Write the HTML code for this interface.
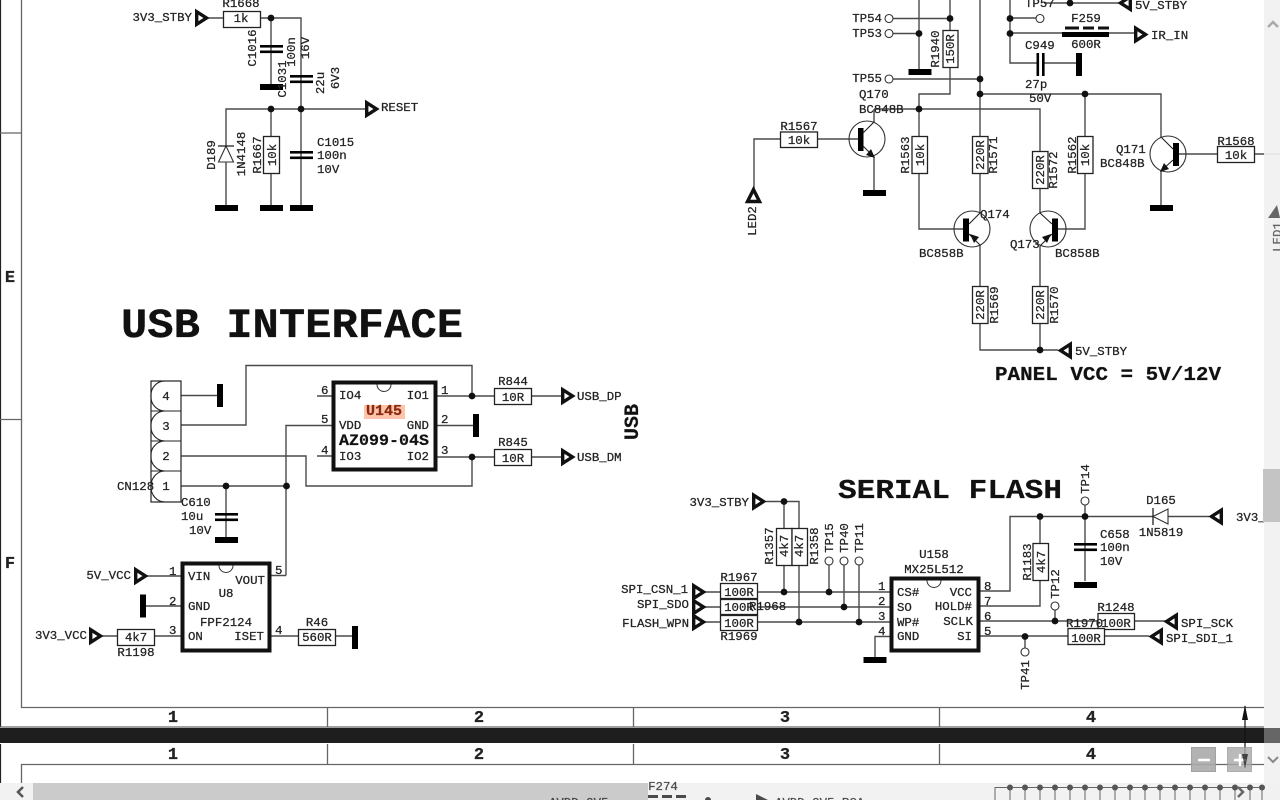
<!DOCTYPE html>
<html><head><meta charset="utf-8"><style>
html,body{margin:0;padding:0;background:#fff;overflow:hidden}
svg{display:block}
text{font-family:"Liberation Mono","DejaVu Sans Mono",monospace;font-size:12.4px;fill:#222;stroke:#222;stroke-width:.25}
.m{text-anchor:middle}.e{text-anchor:end}
.w{fill:none;stroke:#4a4a4a;stroke-width:1.4}
.k{fill:none;stroke:#222;stroke-width:1.1}
.r{fill:#fff;stroke:#222;stroke-width:1.3}
.c{fill:#fff;stroke:#333;stroke-width:1.1}
.b{font-weight:bold}
.ic{fill:#fff;stroke:#111;stroke-width:4}
.n{fill:#fff;stroke:#333;stroke-width:1}
</style></head><body>
<svg width="1280" height="800" viewBox="0 0 1280 800" xmlns="http://www.w3.org/2000/svg">
<defs>
<g id="fr"><polygon points="1.7,-6.3 1.7,6.300 11.500,0" fill="#fff" stroke="#111" stroke-width="3.4"/></g>
<g id="fl"><polygon points="-1.7,-6.3 -1.7,6.300 -11.500,0" fill="#fff" stroke="#111" stroke-width="3.4"/></g>
<circle id="d" r="3.4" fill="#111"/>
<rect id="gh" x="-11.5" y="-3" width="23" height="6" fill="#000"/>
<rect id="gv" x="-3" y="-11.5" width="6" height="23" fill="#000"/>
</defs>

<!-- frame -->
<path d="M.5 0V727M.5 744V783" stroke="#222" stroke-width="1.2" fill="none"/>
<path d="M21.5 0V707.5H1264M0 133H21M0 419.5H21M327.5 707V727M633.5 707V727M939.5 707V727M0 727H1264" stroke="#666" stroke-width="1.3" fill="none"/>
<path d="M21.5 783V764.5H1264M327.5 744V764M633.5 744V764M939.5 744V764" stroke="#666" stroke-width="1.3" fill="none"/>
<rect x="0" y="728" width="1264" height="15" fill="#1e1e1e"/>
<g>
<text class="m b" x="173" y="722" style="font-size:17px">1</text><text class="m b" x="479" y="722" style="font-size:17px">2</text><text class="m b" x="785" y="722" style="font-size:17px">3</text><text class="m b" x="1091" y="722" style="font-size:17px">4</text>
<text class="m b" x="173" y="759" style="font-size:17px">1</text><text class="m b" x="479" y="759" style="font-size:17px">2</text><text class="m b" x="785" y="759" style="font-size:17px">3</text><text class="m b" x="1091" y="759" style="font-size:17px">4</text>
<text class="m b" x="10" y="282" style="font-size:17px">E</text><text class="m b" x="10" y="568" style="font-size:17px">F</text>
</g>
<path d="M1245 706V768" stroke="#111" stroke-width="1.2"/>
<polygon points="1245,705 1242,720 1248,720" fill="#111"/><polygon points="1245,768 1242,754 1248,754" fill="#111"/>

<!-- top-left reset circuit -->
<path class="w" d="M208 18H223M260 18H301V109M271 18V86M226 208V109H365M271 109V208M301 109V208"/>
<use href="#fr" x="195" y="18"/>
<rect class="r" x="223.500" y="11.500" width="37" height="16"/>
<use href="#d" x="271" y="18"/><use href="#d" x="271" y="109"/><use href="#d" x="301" y="109"/>
<rect x="260" y="45" width="23" height="2.600" fill="#000"/><rect x="260" y="50.500" width="23" height="2.600" fill="#000"/>
<rect x="290" y="75" width="23" height="2.600" fill="#000"/><rect x="290" y="80.500" width="23" height="2.600" fill="#000"/>
<rect x="290" y="151" width="23" height="2.600" fill="#000"/><rect x="290" y="156.500" width="23" height="2.600" fill="#000"/>
<use href="#gh" x="271.500" y="87"/><use href="#gh" x="226.500" y="208"/><use href="#gh" x="271.500" y="208"/><use href="#gh" x="301.500" y="208"/>
<use href="#fr" x="365" y="109"/>
<polygon points="226,146 218.500,162 233.500,162" fill="#fff" stroke="#333" stroke-width="1.1"/><path d="M218 146H234" stroke="#222" stroke-width="1.300"/>
<rect class="r" x="263.500" y="136.500" width="16" height="37"/>
<text class="e" x="192" y="21">3V3_STBY</text><text class="m" x="241" y="7">R1668</text><text class="m" x="241" y="22">1k</text>
<text x="381" y="111">RESET</text>
<text class="m" transform="translate(256,48) rotate(-90)">C1016</text>
<text class="m" transform="translate(295,52) rotate(-90)">100n</text>
<text class="m" transform="translate(286,79) rotate(-90)">C1031</text>
<text class="m" transform="translate(309,48) rotate(-90)">16V</text>
<text class="m" transform="translate(324,83) rotate(-90)">22u</text>
<text class="m" transform="translate(339,78) rotate(-90)">6V3</text>
<text class="m" transform="translate(215,155) rotate(-90)">D189</text>
<text class="m" transform="translate(245,154) rotate(-90)">1N4148</text>
<text class="m" transform="translate(261,155) rotate(-90)">R1667</text>
<text class="m" transform="translate(276,155) rotate(-90)">10k</text>
<text x="317" y="146">C1015</text><text x="317" y="159">100n</text><text x="317" y="173">10V</text>

<!-- USB interface -->
<text x="121" y="337" textLength="342" lengthAdjust="spacingAndGlyphs" style="font-size:42px;font-weight:bold;fill:#111;stroke:#111;stroke-width:.3">USB INTERFACE</text>
<path class="w" d="M181 395.500H219M181 425H246V365.500H472V396M181 456H306V486H472V457M181 486H286M226 486V540M286 575.500V425.500H332M271 575.500H286M317 396H332M317 456H332M437 396H495M437 425.500H473M437 457H495M531 396H561M531 457H561"/>
<rect x="151" y="381" width="30" height="121" fill="none" stroke="#222" stroke-width="1.200"/>
<path class="k" d="M151 411H181M151 441H181M151 471H181M181 502H166"/>
<path class="k" d="M165 381A14 14 0 0 0 151 396A14 14 0 0 0 165 411M165 411A14 14 0 0 0 151 426A14 14 0 0 0 165 441M165 441A14 14 0 0 0 151 456A14 14 0 0 0 165 471M165 471A14 15 0 0 0 151 486A14 15 0 0 0 165 502"/>
<text class="m" x="166" y="400">4</text><text class="m" x="166" y="430">3</text><text class="m" x="166" y="460">2</text><text class="m" x="166" y="490">1</text>
<text x="117" y="490">CN128</text>
<use href="#gv" x="220" y="395.500"/>
<use href="#d" x="226" y="486"/><use href="#d" x="286.500" y="486"/>
<rect x="215" y="513" width="23" height="2.600" fill="#000"/><rect x="215" y="518.500" width="23" height="2.600" fill="#000"/>
<use href="#gh" x="226.500" y="540"/>
<text x="181" y="506">C610</text><text x="181" y="520">10u</text><text x="189" y="534">10V</text>

<rect class="ic" x="333.500" y="382.500" width="102" height="87"/>
<path class="n" d="M377 384.500A7 7 0 0 0 391 384.500" fill="none"/>
<rect x="364" y="405" width="41" height="14" fill="#ffc4ac"/>
<text class="m b" x="384" y="415" style="font-size:15px;fill:#8a2a10;stroke:#8a2a10;font-weight:bold">U145</text>
<text x="339" y="399">IO4</text><text class="e" x="429" y="399">IO1</text><text x="339" y="429">VDD</text><text class="e" x="429" y="429">GND</text><text x="339" y="460">IO3</text><text class="e" x="429" y="460">IO2</text>
<text x="339" y="445" textLength="90" lengthAdjust="spacingAndGlyphs" style="font-size:15.500px;font-weight:bold;fill:#111">AZ099-04S</text>
<text x="321" y="394">6</text><text x="321" y="423">5</text><text x="321" y="454">4</text>
<text x="441" y="394">1</text><text x="441" y="423">2</text><text x="441" y="454">3</text>
<use href="#d" x="472" y="396"/><use href="#d" x="472" y="457"/>
<use href="#gv" x="476" y="425.500"/>
<rect class="r" x="494.500" y="388.500" width="37" height="16"/><rect class="r" x="494.500" y="449.500" width="37" height="16"/>
<text class="m" x="513" y="385">R844</text><text class="m" x="513" y="401">10R</text><text class="m" x="513" y="446">R845</text><text class="m" x="513" y="462">10R</text>
<use href="#fr" x="561" y="396"/><use href="#fr" x="561" y="457"/>
<text x="577" y="400">USB_DP</text><text x="577" y="461">USB_DM</text>
<text class="m" transform="translate(638,422) rotate(-90)" style="font-size:20px;font-weight:bold;fill:#111">USB</text>

<!-- U8 -->
<path class="w" d="M147 576H181M143 606H181M102 636H117M155 636H181M271 636H298M335 636H352"/>
<use href="#fr" x="134" y="576"/><use href="#fr" x="89" y="636"/>
<use href="#gv" x="143" y="606"/><use href="#gv" x="355" y="637.500"/>
<rect class="ic" x="182.500" y="563.500" width="87" height="87"/>
<path class="n" d="M219 565.500A7 7 0 0 0 233 565.500" fill="none"/>
<rect class="r" x="117.500" y="629.500" width="37" height="16"/><rect class="r" x="298.500" y="629.500" width="37" height="16"/>
<text class="e" x="131" y="579">5V_VCC</text><text class="e" x="87" y="639">3V3_VCC</text>
<text class="m" x="136" y="641">4k7</text><text class="m" x="136" y="656">R1198</text>
<text class="m" x="317" y="641">560R</text><text class="m" x="317" y="626">R46</text>
<text x="188" y="580">VIN</text><text x="188" y="610">GND</text><text x="188" y="640">ON</text>
<text class="e" x="265" y="584">VOUT</text><text class="m" x="226" y="597">U8</text><text class="m" x="226" y="626">FPF2124</text><text class="e" x="264" y="640">ISET</text>
<text x="169" y="575">1</text><text x="169" y="605">2</text><text x="169" y="634">3</text><text x="275" y="574">5</text><text x="275" y="634">4</text>

<!-- top-right -->
<path class="w" d="M893 18.500H950M893 33.500H919M919 0V70M950 0V30M950 68V94H919V229H963M893 79H980M980 0V141M980 94H1161V137M874 109H1040V151M1085 94V229H1058M980 136V213M874 122V109M874 157V190M754 188V139H780M818 139H858M1010 0V63H1037M1043 63H1077M1010 18H1036M1010 33H1134M1044 3H1119M1040 189V213M980 245V350H1058M1040 246V350M1179 154H1217M1254 154H1280M1161 171V205"/>
<circle class="c" cx="889" cy="18.500" r="4"/><circle class="c" cx="889" cy="33.500" r="4"/><circle class="c" cx="889" cy="79" r="4"/><circle class="c" cx="1040" cy="18.500" r="4"/>
<use href="#d" x="950" y="18.500"/><use href="#d" x="919" y="33.500"/><use href="#d" x="980" y="79"/><use href="#d" x="980" y="94"/><use href="#d" x="1085" y="94"/><use href="#d" x="919" y="109"/><use href="#d" x="1010" y="18.500"/><use href="#d" x="1010" y="33.500"/><use href="#d" x="1070" y="3"/>
<use href="#gh" x="920" y="72"/>
<text class="e" x="882" y="22">TP54</text><text class="e" x="882" y="37">TP53</text><text class="e" x="882" y="82">TP55</text><text x="1025" y="7">TP57</text>
<rect class="r" x="943" y="30.500" width="15" height="37"/>
<text class="m" transform="translate(939,49) rotate(-90)">R1940</text>
<text class="m" transform="translate(954,49) rotate(-90)">150R</text>
<use href="#fl" x="1132" y="3"/><text x="1135" y="9">5V_STBY</text>
<text class="m" x="1086" y="22">F259</text><text class="m" x="1086" y="48">600R</text>
<rect x="1062" y="32" width="47" height="5" fill="#000"/>
<path d="M1065 28H1079M1083 28H1094M1098 28H1109" stroke="#111" stroke-width="3" fill="none"/>
<use href="#fr" x="1134" y="34.500"/><text x="1151" y="39">IR_IN</text>
<text x="1025" y="49">C949</text><text x="1025" y="88">27p</text><text x="1029" y="102">50V</text>
<rect x="1036.500" y="53" width="2.600" height="23" fill="#000"/><rect x="1042" y="53" width="2.600" height="23" fill="#000"/>
<use href="#gv" x="1079" y="64.500"/>

<!-- Q170 -->
<circle cx="867" cy="139" r="18" fill="none" stroke="#333" stroke-width="1.1"/>
<rect x="858" y="128" width="5.500" height="23" fill="#000"/>
<path class="k" d="M863 133L874 122M863 146L874 157"/><polygon points="875,158 866,155 871,149" fill="#111"/>
<use href="#gh" x="874.500" y="193"/>
<rect class="r" x="780.500" y="132" width="37" height="15.500"/>
<text class="m" x="799" y="130">R1567</text><text class="m" x="799" y="144">10k</text>
<text x="859" y="98">Q170</text><text x="859" y="113">BC848B</text>
<polygon points="753.500,189.500 747.500,201.500 759.500,201.500" fill="#fff" stroke="#111" stroke-width="3.4"/>
<text class="m" transform="translate(756,221) rotate(-90)">LED2</text>
<!-- R1563 etc -->
<rect class="r" x="912" y="136.500" width="15.500" height="37"/><rect class="r" x="972.500" y="136.500" width="15.500" height="37"/><rect class="r" x="1032.500" y="151.500" width="15.500" height="37"/><rect class="r" x="1077.500" y="136.500" width="15.500" height="37"/>
<rect class="r" x="972.500" y="286.500" width="15.500" height="37"/><rect class="r" x="1032.500" y="286.500" width="15.500" height="37"/>
<text class="m" transform="translate(909,155) rotate(-90)">R1563</text><text class="m" transform="translate(924,155) rotate(-90)">10k</text>
<text class="m" transform="translate(984,155) rotate(-90)">220R</text><text class="m" transform="translate(997,155) rotate(-90)">R1571</text>
<text class="m" transform="translate(1044,170) rotate(-90)">220R</text><text class="m" transform="translate(1057,170) rotate(-90)">R1572</text>
<text class="m" transform="translate(1076,155) rotate(-90)">R1562</text><text class="m" transform="translate(1089,155) rotate(-90)">10k</text>
<text class="m" transform="translate(984,305) rotate(-90)">220R</text><text class="m" transform="translate(998,305) rotate(-90)">R1569</text>
<text class="m" transform="translate(1044,305) rotate(-90)">220R</text><text class="m" transform="translate(1058,305) rotate(-90)">R1570</text>
<!-- Q174 -->
<circle cx="972" cy="229" r="18" fill="none" stroke="#333" stroke-width="1.1"/>
<rect x="963" y="218.500" width="6" height="23" fill="#000"/>
<path class="k" d="M969 224L980 213M969 234L980 245"/><polygon points="970,234 979,237 974,243" fill="#111"/>
<text x="980" y="218">Q174</text><text x="919" y="257">BC858B</text>
<!-- Q173 -->
<circle cx="1048" cy="229" r="18" fill="none" stroke="#333" stroke-width="1.1"/>
<rect x="1052" y="218.500" width="6" height="23" fill="#000"/>
<path class="k" d="M1052 224L1040 213M1052 234L1040 246"/><polygon points="1051,234 1042,237 1047,243" fill="#111"/>
<text x="1010" y="248">Q173</text><text x="1055" y="257">BC858B</text>
<use href="#d" x="1040" y="350"/>
<use href="#fl" x="1072" y="350.500"/>
<text x="1075" y="355">5V_STBY</text>
<text x="995" y="380" textLength="226" lengthAdjust="spacingAndGlyphs" style="font-size:19px;font-weight:bold;fill:#111">PANEL VCC = 5V/12V</text>
<!-- Q171 -->
<circle cx="1168" cy="154" r="18" fill="none" stroke="#333" stroke-width="1.1"/>
<rect x="1173" y="143" width="6" height="23" fill="#000"/>
<path class="k" d="M1173 149L1161 137M1173 160L1161 171"/><polygon points="1160,172 1169,169 1164,163" fill="#111"/>
<use href="#gh" x="1161.500" y="208"/>
<rect class="r" x="1217.500" y="146.500" width="37" height="16"/>
<text class="m" x="1236" y="145">R1568</text><text class="m" x="1236" y="159">10k</text>
<text x="1116" y="153">Q171</text><text x="1100" y="167">BC848B</text>

<!-- Serial flash -->
<text x="838" y="498" textLength="224" lengthAdjust="spacingAndGlyphs" style="font-size:27px;font-weight:bold;fill:#111;stroke:#111;stroke-width:.2">SERIAL FLASH</text>
<path class="w" d="M766 501.500H799V622M784 501.500V592M705 592H890M705 607H890M705 622H890M829 565V592M844 565V607M859 565V622M875 660V636.500H890"/>
<use href="#fr" x="752" y="501.500"/>
<use href="#d" x="784" y="501.500"/><use href="#d" x="784" y="592"/><use href="#d" x="799" y="622"/><use href="#d" x="829" y="592"/><use href="#d" x="844" y="607"/><use href="#d" x="859" y="622"/>
<text class="e" x="749" y="506">3V3_STBY</text>
<rect class="r" x="776.500" y="528.500" width="15.500" height="37"/><rect class="r" x="792" y="528.500" width="15.500" height="37"/>
<text class="m" transform="translate(773,546) rotate(-90)">R1357</text><text class="m" transform="translate(788,546) rotate(-90)">4k7</text><text class="m" transform="translate(803,546) rotate(-90)">4k7</text><text class="m" transform="translate(818,546) rotate(-90)">R1358</text>
<circle class="c" cx="829" cy="561" r="4"/><circle class="c" cx="844" cy="561" r="4"/><circle class="c" cx="859" cy="561" r="4"/>
<text class="m" transform="translate(833,538) rotate(-90)">TP15</text><text class="m" transform="translate(848,538) rotate(-90)">TP40</text><text class="m" transform="translate(863,538) rotate(-90)">TP11</text>
<use href="#fr" x="692" y="592"/><use href="#fr" x="692" y="607"/><use href="#fr" x="692" y="622"/>
<rect class="r" x="720.500" y="583.500" width="37" height="15"/><rect class="r" x="720.500" y="599.500" width="37" height="15"/><rect class="r" x="720.500" y="615.500" width="37" height="15"/>
<text class="m" x="739" y="596">100R</text><text class="m" x="739" y="611">100R</text><text class="m" x="739" y="627">100R</text>
<text class="m" x="739" y="581">R1967</text><text x="749" y="610">R1968</text><text class="m" x="739" y="640">R1969</text>
<text class="e" x="688" y="593">SPI_CSN_1</text><text class="e" x="689" y="608">SPI_SDO</text><text class="e" x="689" y="627">FLASH_WPN</text>
<use href="#gh" x="875" y="660"/>
<text x="878" y="590">1</text><text x="878" y="605">2</text><text x="878" y="620">3</text><text x="878" y="635">4</text>
<path class="w" d="M980 591H1010V516.500H1153M1168 516.500H1209M980 606H1040V516.500M1085 505V581M980 621H1098M1134 621H1165M980 636H1068M1104 636H1149M1055 610V621M1025 636V648"/>
<rect class="ic" x="891.500" y="578.500" width="87" height="72"/>
<path class="n" d="M927 580.500A7 7 0 0 0 941 580.500" fill="none"/>
<text x="897" y="596">CS#</text><text x="897" y="611">SO</text><text x="897" y="626">WP#</text><text x="897" y="640">GND</text>
<text class="e" x="972" y="596">VCC</text><text class="e" x="972" y="610">HOLD#</text><text class="e" x="973" y="625">SCLK</text><text class="e" x="972" y="640">SI</text>
<text class="m" x="934" y="558">U158</text><text class="m" x="934" y="573">MX25L512</text>
<text x="984" y="590">8</text><text x="984" y="605">7</text><text x="984" y="620">6</text><text x="984" y="635">5</text>
<use href="#d" x="1040" y="516.500"/><use href="#d" x="1085" y="516.500"/><use href="#d" x="1055" y="621"/><use href="#d" x="1025" y="636.500"/>
<circle class="c" cx="1085" cy="501" r="4"/><circle class="c" cx="1055" cy="606" r="4"/><circle class="c" cx="1025" cy="652" r="4"/>
<polygon points="1153,516.500 1168,509 1168,524" fill="#fff" stroke="#333" stroke-width="1.100"/><path d="M1153 508V525" stroke="#222" stroke-width="1.300"/>
<use href="#fl" x="1223" y="516.500"/>
<text class="m" x="1161" y="504">D165</text><text class="m" x="1161" y="536">1N5819</text>
<rect class="r" x="1033" y="543.500" width="15.500" height="37"/>
<text class="m" transform="translate(1031,562) rotate(-90)">R1183</text><text class="m" transform="translate(1045,562) rotate(-90)">4k7</text>
<text class="m" transform="translate(1089,479) rotate(-90)">TP14</text><text class="m" transform="translate(1059,584) rotate(-90)">TP12</text><text class="m" transform="translate(1029,675) rotate(-90)">TP41</text>
<rect x="1074" y="543" width="23" height="2.600" fill="#000"/><rect x="1074" y="548.500" width="23" height="2.600" fill="#000"/>
<use href="#gh" x="1085.500" y="585"/>
<text x="1100" y="538">C658</text><text x="1100" y="551">100n</text><text x="1100" y="565">10V</text>
<rect class="r" x="1098" y="613.500" width="36.500" height="16"/><rect class="r" x="1068" y="628.500" width="36.500" height="16"/>
<text class="m" x="1116" y="627">100R</text><text class="m" x="1086" y="642">100R</text>
<text class="m" x="1116" y="611">R1248</text><text x="1066" y="627">R1970</text>
<use href="#fl" x="1178" y="621.500"/><use href="#fl" x="1163" y="636.500"/>
<text x="1181" y="627">SPI_SCK</text><text x="1166" y="642">SPI_SDI_1</text>
<text x="1236" y="521">3V3_STBY</text>

<!-- scrollbars overlay -->
<rect x="1264" y="0" width="16" height="800" fill="#f1f1f1" opacity=".93"/>
<rect x="0" y="783" width="1280" height="17" fill="#f1f1f1" opacity=".93"/>
<rect x="1264" y="728" width="16" height="15" fill="#666"/>
<rect x="1263" y="469" width="17" height="53" fill="#c4c4c4"/>
<rect x="33" y="783" width="615" height="17" fill="#cbcbcb"/>

<!-- bottom sheet content, seen through the bar -->
<g opacity=".8">
<text class="m" x="663" y="790">F274</text>
<path d="M648 796.500H658M662 796.500H672M676 796.500H686" stroke="#222" stroke-width="3"/>
<text x="775" y="806">AVDD_2V5_PCA</text>
<polygon points="756,794 756,806 768,800" fill="#222"/>
<text x="549" y="806">AVDD_2V5</text>
<circle cx="708" cy="800" r="3" fill="#222"/>
</g>
<path d="M995 800V787.500H1264M1010 787V800M1025 787V800M1040 787V800M1055 787V800M1070 787V800M1085 787V800M1100 787V800M1115 787V800M1130 787V800M1145 787V800M1160 787V800M1175 787V800M1190 787V800M1205 787V800M1220 787V800M1235 787V800M1250 787V800M1262 787V800" stroke="#666" stroke-width="1" fill="none"/>
<g fill="#555">
<circle cx="1010" cy="787.500" r="3"/><circle cx="1025" cy="787.500" r="3"/><circle cx="1040" cy="787.500" r="3"/><circle cx="1055" cy="787.500" r="3"/><circle cx="1070" cy="787.500" r="3"/><circle cx="1085" cy="787.500" r="3"/><circle cx="1100" cy="787.500" r="3"/><circle cx="1115" cy="787.500" r="3"/><circle cx="1130" cy="787.500" r="3"/><circle cx="1145" cy="787.500" r="3"/><circle cx="1160" cy="787.500" r="3"/><circle cx="1175" cy="787.500" r="3"/><circle cx="1190" cy="787.500" r="3"/><circle cx="1205" cy="787.500" r="3"/><circle cx="1220" cy="787.500" r="3"/><circle cx="1235" cy="787.500" r="3"/><circle cx="1250" cy="787.500" r="3"/><circle cx="1262" cy="787.500" r="3"/>
</g>
<polygon points="1277,205 1268,218 1280,218" fill="#666"/>
<text class="m" transform="translate(1281,237) rotate(-90)" style="fill:#666;stroke:#666">LED1</text>
<path d="M1268 27L1273 22L1278 27" stroke="#aaa" stroke-width="2.500" fill="none"/>
<path d="M1268 757L1273 762L1278 757" stroke="#888" stroke-width="2" fill="none"/>
<path d="M23 787L18 792L23 797" stroke="#555" stroke-width="2.500" fill="none"/>
<path d="M1238 787L1243 792L1238 797" stroke="#666" stroke-width="2.500" fill="none"/>
<rect x="1191.500" y="747.500" width="24" height="24" fill="#aaa" stroke="#999" opacity=".9"/>
<rect x="1227.500" y="747.500" width="24" height="24" fill="#aaa" stroke="#999" opacity=".8"/>
<path d="M1198 760H1210M1234 760H1246M1240 754V766" stroke="#fff" stroke-width="2.400"/>
<polygon points="1245,768 1242,754 1248,754" fill="#222" opacity=".7"/>
</svg>
</body></html>
